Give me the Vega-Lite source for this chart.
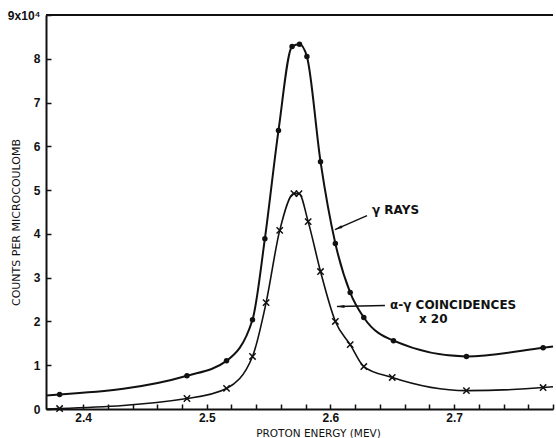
{
  "$schema": "https://vega.github.io/schema/vega-lite/v6.json",
  "width": 507,
  "height": 394,
  "autosize": "none",
  "padding": {"left": 46, "top": 15, "right": 3, "bottom": 29},
  "background": "white",
  "config": {"view": {"stroke": null}, "font": "DejaVu Sans"},
  "datasets": {
    "curves": [
      {"series": "gamma", "energy": 2.37, "counts": 0.31, "marker": false},
      {"series": "gamma", "energy": 2.381, "counts": 0.33, "marker": true},
      {"series": "gamma", "energy": 2.484, "counts": 0.76, "marker": true},
      {"series": "gamma", "energy": 2.516, "counts": 1.10, "marker": true},
      {"series": "gamma", "energy": 2.537, "counts": 2.04, "marker": true},
      {"series": "gamma", "energy": 2.547, "counts": 3.89, "marker": true},
      {"series": "gamma", "energy": 2.558, "counts": 6.36, "marker": true},
      {"series": "gamma", "energy": 2.569, "counts": 8.28, "marker": true},
      {"series": "gamma", "energy": 2.575, "counts": 8.33, "marker": true},
      {"series": "gamma", "energy": 2.581, "counts": 8.05, "marker": true},
      {"series": "gamma", "energy": 2.592, "counts": 5.65, "marker": true},
      {"series": "gamma", "energy": 2.604, "counts": 3.78, "marker": true},
      {"series": "gamma", "energy": 2.616, "counts": 2.66, "marker": true},
      {"series": "gamma", "energy": 2.627, "counts": 2.09, "marker": true},
      {"series": "gamma", "energy": 2.651, "counts": 1.56, "marker": true},
      {"series": "gamma", "energy": 2.710, "counts": 1.20, "marker": true},
      {"series": "gamma", "energy": 2.772, "counts": 1.40, "marker": true},
      {"series": "gamma", "energy": 2.78, "counts": 1.43, "marker": false},
      {"series": "coinc", "energy": 2.37, "counts": 0.0, "marker": false},
      {"series": "coinc", "energy": 2.381, "counts": 0.01, "marker": true},
      {"series": "coinc", "energy": 2.484, "counts": 0.24, "marker": true},
      {"series": "coinc", "energy": 2.516, "counts": 0.47, "marker": true},
      {"series": "coinc", "energy": 2.537, "counts": 1.20, "marker": true},
      {"series": "coinc", "energy": 2.548, "counts": 2.43, "marker": true},
      {"series": "coinc", "energy": 2.559, "counts": 4.08, "marker": true},
      {"series": "coinc", "energy": 2.5705, "counts": 4.92, "marker": true},
      {"series": "coinc", "energy": 2.5746, "counts": 4.92, "marker": true},
      {"series": "coinc", "energy": 2.582, "counts": 4.28, "marker": true},
      {"series": "coinc", "energy": 2.592, "counts": 3.14, "marker": true},
      {"series": "coinc", "energy": 2.604, "counts": 2.00, "marker": true},
      {"series": "coinc", "energy": 2.616, "counts": 1.47, "marker": true},
      {"series": "coinc", "energy": 2.627, "counts": 0.97, "marker": true},
      {"series": "coinc", "energy": 2.650, "counts": 0.72, "marker": true},
      {"series": "coinc", "energy": 2.710, "counts": 0.42, "marker": true},
      {"series": "coinc", "energy": 2.772, "counts": 0.49, "marker": true},
      {"series": "coinc", "energy": 2.78, "counts": 0.51, "marker": false}
    ],
    "notes": [
      {"energy": 2.6336, "counts": 4.555, "label": "γ RAYS"},
      {"energy": 2.6482, "counts": 2.386, "label": "α-γ COINCIDENCES"},
      {"energy": 2.6716, "counts": 2.066, "label": "x 20"}
    ],
    "arrows": [
      {"energy": 2.6296, "counts": 4.418, "energy2": 2.6037, "counts2": 4.098, "angle": 246.4},
      {"energy": 2.6441, "counts": 2.363, "energy2": 2.6053, "counts2": 2.340, "angle": 268.8}
    ],
    "border": [
      {"energy": 2.37, "counts": 9, "energy2": 2.78, "counts2": 9}
    ]
  },
  "encoding": {
    "x": {
      "field": "energy",
      "type": "quantitative",
      "scale": {"domain": [2.37, 2.78], "nice": false, "zero": false},
      "axis": {
        "title": "PROTON ENERGY (MEV)",
        "values": [2.40, 2.42, 2.44, 2.46, 2.48, 2.50, 2.52, 2.54, 2.56, 2.58, 2.60, 2.62, 2.64, 2.66, 2.68, 2.70, 2.72, 2.74, 2.76, 2.78],
        "labelExpr": "abs(datum.value*10 - round(datum.value*10)) < 0.001 ? format(datum.value, '.1f') : ''",
        "tickSize": -5,
        "labelPadding": 8,
        "labelFlush": false,
        "labelOverlap": false,
        "grid": false,
        "domainColor": "#111",
        "domainWidth": 2,
        "tickColor": "#111",
        "tickWidth": 1.5,
        "labelFont": "Liberation Sans",
        "labelFontWeight": "bold",
        "labelFontSize": 12,
        "labelColor": "#111",
        "titleFont": "DejaVu Sans",
        "titleFontSize": 10.5,
        "titleFontWeight": "normal",
        "titleColor": "#111",
        "titleX": 272,
        "titleY": 24,
        "titleBaseline": "middle"
      }
    },
    "y": {
      "field": "counts",
      "type": "quantitative",
      "scale": {"domain": [0, 9], "nice": false},
      "axis": {
        "title": "COUNTS PER MICROCOULOMB",
        "values": [0, 1, 2, 3, 4, 5, 6, 7, 8, 9],
        "labelExpr": "datum.value == 9 ? '9x10⁴' : datum.label",
        "tickSize": -5,
        "labelPadding": 11,
        "labelFlush": false,
        "labelOverlap": false,
        "grid": false,
        "domainColor": "#111",
        "domainWidth": 2,
        "tickColor": "#111",
        "tickWidth": 1.5,
        "labelFont": "Liberation Sans",
        "labelFontWeight": "bold",
        "labelFontSize": 12,
        "labelColor": "#111",
        "titleFont": "DejaVu Sans",
        "titleFontSize": 11,
        "titleFontWeight": "normal",
        "titleColor": "#111",
        "titleX": -30,
        "titleY": 207,
        "titleAngle": 270,
        "titleBaseline": "middle",
        "titleAlign": "center"
      }
    }
  },
  "layer": [
    {
      "data": {"name": "border"},
      "mark": {"type": "rule", "color": "#111", "strokeWidth": 2},
      "encoding": {"x2": {"field": "energy2"}, "y2": {"field": "counts2"}}
    },
    {
      "data": {"name": "curves"},
      "transform": [{"filter": "datum.series == 'gamma'"}],
      "mark": {"type": "line", "color": "#111", "strokeWidth": 2, "interpolate": "monotone"},
      "encoding": {}
    },
    {
      "data": {"name": "curves"},
      "transform": [{"filter": "datum.series == 'coinc'"}],
      "mark": {"type": "line", "color": "#111", "strokeWidth": 1.6, "interpolate": "monotone"},
      "encoding": {}
    },
    {
      "data": {"name": "curves"},
      "transform": [{"filter": "datum.series == 'gamma' && datum.marker"}],
      "mark": {"type": "point", "shape": "circle", "filled": true, "size": 30, "color": "#111", "opacity": 1},
      "encoding": {}
    },
    {
      "data": {"name": "curves"},
      "transform": [{"filter": "datum.series == 'coinc' && datum.marker"}],
      "mark": {"type": "point", "shape": "M-1,-1L1,1M1,-1L-1,1", "filled": false, "size": 40, "strokeWidth": 1.5, "color": "#111", "opacity": 1},
      "encoding": {}
    },
    {
      "data": {"name": "arrows"},
      "mark": {"type": "rule", "color": "#111", "strokeWidth": 1.5},
      "encoding": {"x2": {"field": "energy2"}, "y2": {"field": "counts2"}}
    },
    {
      "data": {"name": "arrows"},
      "mark": {"type": "point", "shape": "M0,0L0.5,2.5L-0.5,2.5Z", "filled": true, "size": 36, "color": "#111", "opacity": 1},
      "encoding": {
        "x": {"field": "energy2", "type": "quantitative"},
        "y": {"field": "counts2", "type": "quantitative"},
        "angle": {"field": "angle", "type": "quantitative", "scale": null}
      }
    },
    {
      "data": {"name": "notes"},
      "mark": {"type": "text", "align": "left", "baseline": "middle", "font": "DejaVu Sans", "fontWeight": "bold", "fontSize": 12, "color": "#111"},
      "encoding": {"text": {"field": "label"}}
    }
  ]
}
